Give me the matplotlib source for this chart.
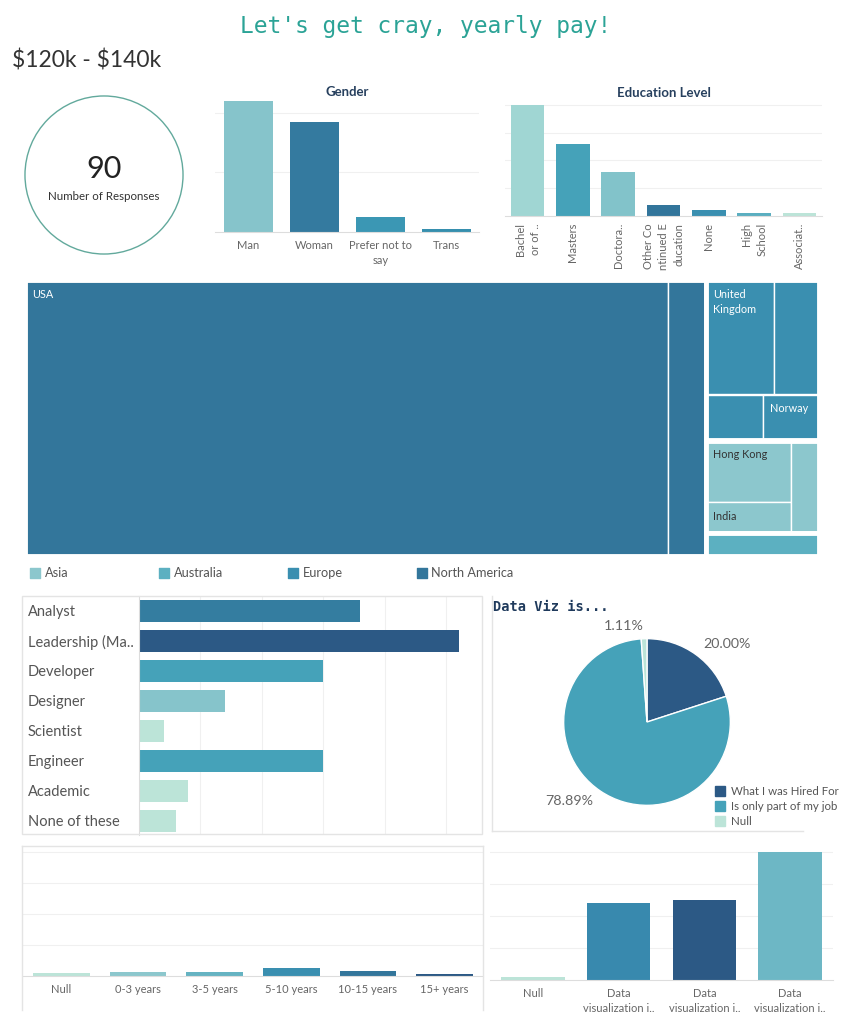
import numpy as np
import matplotlib.pyplot as plt
from matplotlib.patches import Rectangle, Circle, Patch
from matplotlib.lines import Line2D

plt.rcParams['font.family'] = ['Lato', 'DejaVu Sans']

# ---------------- data ----------------
salary_band = "$120k - $140k"
n_responses = 90

genders = ["Man", "Woman", "Prefer not to\nsay", "Trans"]
gender_counts = [44, 37, 5, 1]
gender_colors = ['#86c4cb', '#347a9f', '#3b97b4', '#368fae']

edu_levels = ["Bachel\nor of ..", "Masters", "Doctora..", "Other Co\nntinued E\nducation",
              "None", "High\nSchool", "Associat.."]
edu_counts = [40, 26, 16, 4, 2, 1, 1]
edu_colors = ['#a0d6d3', '#45a2b9', '#82c3ca', '#32759b', '#3a8fb0', '#5aaec0', '#bce4d8']

# treemap: region -> countries
regions = ["North America", "Europe", "Asia", "Australia"]
region_colors = ['#33769b', '#3a8fb0', '#8cc7cd', '#5cb0c1']
na_countries = ["USA", ""]
na_counts = [68, 4]
eu_countries = ["United\nKingdom", "", "", "Norway"]
eu_counts = [3, 2, 1, 1]
asia_countries = ["Hong Kong", "India", ""]
asia_counts = [2, 1, 1]
aus_countries = [""]
aus_counts = [1]

roles = ["Analyst", "Leadership (Ma..", "Developer", "Designer", "Scientist",
         "Engineer", "Academic", "None of these"]
role_counts = [18, 26, 15, 7, 2, 15, 4, 3]
role_colors = ['#347da0', '#2c5985', '#45a2b9', '#86c4cb', '#bce4d8',
               '#45a2b9', '#bce4d8', '#bce4d8']

dataviz_labels = ["What I was Hired For", "Is only part of my job", "Null"]
dataviz_counts = [18, 71, 1]
dataviz_colors = ['#2c5985', '#45a2b9', '#bce4d8']

years = ["Null", "0-3 years", "3-5 years", "5-10 years", "10-15 years", "15+ years"]
years_counts = [10, 14, 14, 27, 17, 8]
years_colors = ['#bce4d8', '#8cc7cd', '#65b3c2', '#3a8fb0', '#33769b', '#2c5985']

viz_cats = ["Null", "Data\nvisualization i..", "Data\nvisualization i..", "Data\nvisualization i.."]
viz_counts = [1, 24, 25, 40]
viz_colors = ['#bce4d8', '#3889ae', '#2c5985', '#6db7c5']

# ---------------- helpers ----------------
W, H = 853, 1024
fig = plt.figure(figsize=(W / 100, H / 100), dpi=100)
GRID = '#f0f0f0'
TICK = '#666666'
NAVY = '#27405e'


def px_axes(x0, y0, x1, y1):
    return fig.add_axes([x0 / W, 1 - y1 / H, (x1 - x0) / W, (y1 - y0) / H])


def fline(x0, y0, x1, y1, color='#e4e4e4'):
    fig.add_artist(Line2D([x0 / W, x1 / W], [1 - y0 / H, 1 - y1 / H],
                          transform=fig.transFigure, color=color, lw=1))


def clean(ax):
    for s in ax.spines.values():
        s.set_visible(False)


def vbar(ax, cats, vals, colors, ymax, step, fs=8.0, pad=6):
    x = np.arange(len(cats))
    ax.bar(x, vals, width=0.74, color=colors, zorder=2)
    ax.set_xlim(-0.5, len(cats) - 0.5)
    ax.set_ylim(0, ymax)
    ax.set_yticks(np.arange(step, ymax, step))
    ax.yaxis.grid(True, color=GRID, lw=0.8, zorder=0)
    ax.tick_params(axis='y', length=0, labelleft=False)
    ax.tick_params(axis='x', length=0, pad=pad)
    clean(ax)
    ax.spines['bottom'].set_visible(True)
    ax.spines['bottom'].set_color('#dddddd')
    ax.set_xticks(x, cats, fontsize=fs, color=TICK)
    for t in ax.get_xticklabels():
        t.set_linespacing(1.4)
    return ax


def worst(row, side):
    t = sum(row) / side
    return max(max(t / (a / t), (a / t) / t) for a in row)


def squarify(values, x, y, w, h):
    areas = [v * w * h / sum(values) for v in values]
    rects = []
    i = 0
    while i < len(areas):
        short = min(w, h)
        row = [areas[i]]
        cur = worst(row, short)
        j = i + 1
        while j < len(areas):
            new = worst(row + [areas[j]], short)
            if new <= max(cur, 3.0):
                row.append(areas[j])
                cur = new
                j += 1
            else:
                break
        t = sum(row) / short
        if w >= h:
            yy = y
            for a in row:
                rects.append((x, yy, t, a / t))
                yy += a / t
            x += t
            w -= t
        else:
            xx = x
            for a in row:
                rects.append((xx, y, a / t, t))
                xx += a / t
            y += t
            h -= t
        i = j
    return rects


# ---------------- header ----------------
fig.text(426 / W, 1 - 27 / H, "Let's get cray, yearly pay!", family='DejaVu Sans Mono',
         fontsize=16.5, color='#2ba396', ha='center', va='center')
fig.text(12 / W, 1 - 61 / H, salary_band, fontsize=16.5, color='#333333', va='center',
         parse_math=False)

axc = px_axes(20, 91, 188, 259)
axc.set_xlim(-1.063, 1.063)
axc.set_ylim(-1.063, 1.063)
axc.axis('off')
axc.add_patch(Circle((0, 0), 1, fill=False, edgecolor='#62a99c', lw=1))
axc.text(0, 0.07, str(n_responses), fontsize=22, ha='center', va='center', color='#222222')
axc.text(0, -0.27, "Number of Responses", fontsize=8.3, ha='center', va='center', color='#333333')

# ---------------- gender ----------------
ax = px_axes(215.5, 98, 479.5, 232)
vbar(ax, genders, gender_counts, gender_colors, 44.9, 20)
ax.set_title("Gender", fontsize=9.5, fontweight='bold', color=NAVY, pad=1)

# ---------------- education ----------------
ax = px_axes(505, 103, 822, 216)
vbar(ax, edu_levels, edu_counts, edu_colors, 40.7, 10, pad=5)
for t in ax.get_xticklabels():
    t.set_rotation(90)
    t.set_va('top')
    t.set_multialignment('right')
    t.set_linespacing(1.45)
ax.set_title("Education Level", fontsize=9.5, fontweight='bold', color=NAVY, pad=4)

# ---------------- treemap ----------------
ax = px_axes(25.5, 279.5, 819.5, 555.5)
tw, th = ax.bbox.width, ax.bbox.height
ax.set_xlim(0, tw)
ax.set_ylim(th, 0)
ax.axis('off')
groups = [(na_countries, na_counts), (eu_countries, eu_counts),
          (asia_countries, asia_counts), (aus_countries, aus_counts)]
region_rects = squarify([sum(c) for _, c in groups], 0, 0, tw, th)
for (names, counts), rr, col, reg in zip(groups, region_rects, region_colors, regions):
    txt_col = '#333333' if reg == "Asia" else '#ffffff'
    for name, r in zip(names, squarify(counts, *rr)):
        ax.add_patch(Rectangle((r[0], r[1]), r[2], r[3], facecolor=col,
                               edgecolor='white', lw=1))
        if name:
            ax.text(r[0] + 7, r[1] + 9, name, fontsize=7.8, color=txt_col,
                    va='top', ha='left', linespacing=1.55)
    ax.add_patch(Rectangle((rr[0], rr[1]), rr[2], rr[3], fill=False,
                           edgecolor='white', lw=3.5))

# legend of regions (alphabetical)
axl = px_axes(27, 563, 818, 583)
axl.set_xlim(0, 791 / 128.7)
axl.set_ylim(-1, 1)
axl.axis('off')
leg_order = sorted(range(len(regions)), key=lambda k: regions[k])
for i, k in enumerate(leg_order):
    axl.scatter(i + 0.066, 0, marker='s', s=60, color=region_colors[k])
    axl.text(i + 0.14, 0, regions[k], fontsize=9.2, color='#555555', va='center')

# ---------------- job roles ----------------
ax = px_axes(139, 596, 482, 835)
yy = np.arange(len(roles))
ax.barh(yy, role_counts, height=0.73, color=role_colors, zorder=2)
ax.set_ylim(7.47, -0.5)
ax.set_xlim(0, 27.9)
ax.set_xticks([5, 10, 15, 20, 25])
ax.xaxis.grid(True, color=GRID, lw=0.8, zorder=0)
ax.tick_params(axis='x', length=0, labelbottom=False)
ax.set_yticks(yy, roles, fontsize=10.5, color='#555555')
for t in ax.get_yticklabels():
    t.set_ha('left')
ax.tick_params(axis='y', length=0, pad=80)
clean(ax)
ax.spines['left'].set_visible(True)
ax.spines['left'].set_color('#dcdcdc')
fig.add_artist(Rectangle((22 / W, 1 - 834 / H), 460 / W, 238 / H, transform=fig.transFigure,
                         fill=False, edgecolor='#e4e4e4', lw=1))

# ---------------- data viz pie ----------------
fline(492, 596, 492, 831)
fline(492, 831, 803, 831)
fig.text(493 / W, 1 - 607 / H, "Data Viz is...", family='DejaVu Sans Mono', fontsize=9.8,
         fontweight='bold', color='#1f3a5c', va='center')
ax = px_axes(547, 622, 747, 822)
wedges, _ = ax.pie(dataviz_counts, colors=dataviz_colors, startangle=90, counterclock=False,
                   radius=1, wedgeprops=dict(edgecolor='white', linewidth=1))
ax.set_xlim(-1.2, 1.2)
ax.set_ylim(-1.2, 1.2)
ax.set_aspect('equal')
total = sum(dataviz_counts)
for w, v in zip(wedges, dataviz_counts):
    ang = np.deg2rad((w.theta1 + w.theta2) / 2)
    lx, ly = 1.15 * np.cos(ang), 1.15 * np.sin(ang)
    ax.text(lx, ly, f"{v / total * 100:.2f}%", fontsize=10.3, color=TICK,
            ha='left' if lx > 0 else 'right', va='center')
fig.legend([Patch(color=c) for c in dataviz_colors], dataviz_labels, loc='upper left',
           bbox_to_anchor=(709 / W, 1 - 780 / H), frameon=False, fontsize=8.3,
           handlelength=0.9, handleheight=0.9, handletextpad=0.5, labelspacing=0.35,
           labelcolor='#555555', borderpad=0)

# ---------------- years of experience ----------------
fline(22, 846, 483, 846)
fline(22, 846, 22, 1010)
fline(483, 846, 483, 1010)
ax = px_axes(23, 846, 483, 976)
vbar(ax, years, years_counts, years_colors, 420, 100)

# ---------------- data visualization ----------------
ax = px_axes(490, 846, 833, 980)
vbar(ax, viz_cats, viz_counts, viz_colors, 41.9, 10)

fig.savefig("out.png", dpi=100, facecolor='white')
